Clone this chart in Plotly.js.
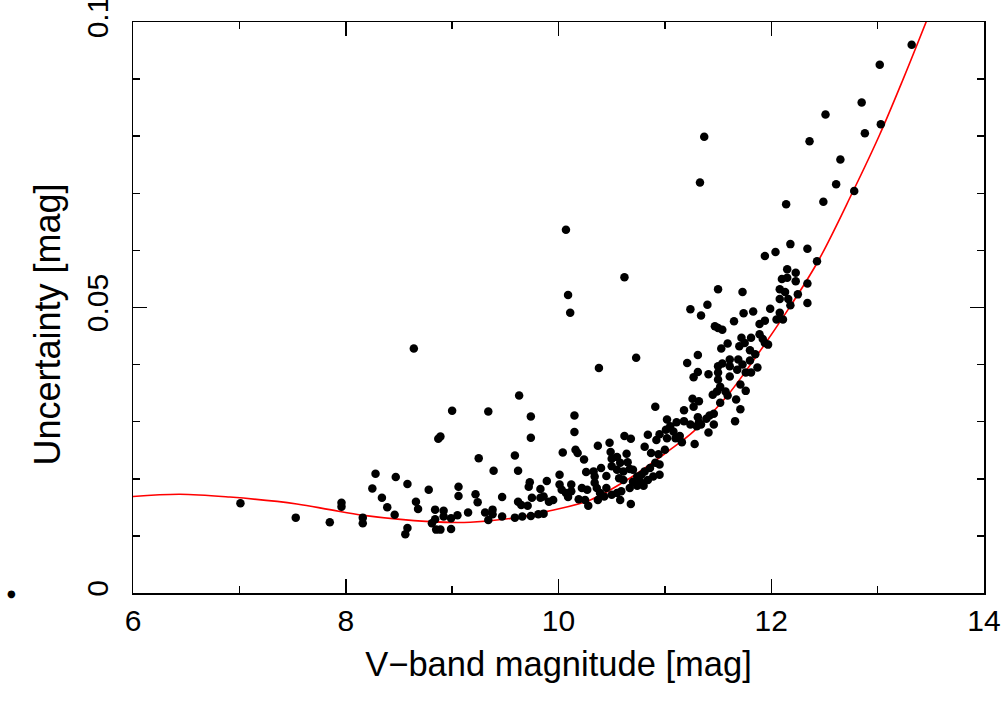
<!DOCTYPE html>
<html>
<head>
<meta charset="utf-8">
<script src="https://cdn.plot.ly/plotly-3.0.1.min.js"></script>
<style>
html,body{margin:0;padding:0;background:#fff;overflow:hidden;}
#wrap{position:relative;width:1008px;height:704px;}
#chart{width:1008px;height:704px;}
#frame{position:absolute;left:131.5px;top:20.5px;width:854px;height:574px;box-sizing:border-box;border:1.5px solid #000;pointer-events:none;}
</style>
</head>
<body>
<div id="wrap"><div id="chart"></div><div id="frame"></div></div>
<script>
// Measured stars: V-band magnitude and its uncertainty [mag]
const magV = [
7.01,7.53,7.85,7.96,7.96,8.16,8.16,8.28,8.25,8.47,8.34,8.39,8.46,8.58,8.66,8.68,8.58,8.56,8.78,8.64,
8.87,8.89,9.25,9.59,9.39,9.62,9.74,9.74,9.06,9.06,9.22,9.24,9.47,9.73,9.72,9.89,9.83,9.75,9.83,9.62,
9.65,9.71,8.84,8.92,8.92,8.84,8.81,8.85,8.89,8.99,9.05,8.99,9.15,9.31,9.38,9.38,9.34,9.47,9.59,9.66,
9.74,9.81,9.86,9.91,
10.07,10.62,10.09,10.11,10.73,10.38,9.63,9.00,9.34,10.15,10.15,10.04,10.16,10.18,10.24,10.37,10.48,10.49,10.62,10.68,
10.84,10.81,
10.91,10.95,11.01,10.92,10.87,10.94,11.00,10.50,10.55,10.64,10.65,10.58,10.50,10.55,10.61,10.67,10.40,10.33,10.26,10.01,
10.34,10.34,10.45,10.57,10.61,10.70,10.74,10.78,10.81,10.86,10.91,10.95,10.95,10.77,10.80,10.84,10.89,10.12,10.12,10.01,
10.03,10.07,10.09,10.22,10.27,10.36,10.39,10.45,10.43,10.50,10.55,10.59,10.67,10.74,10.70,9.95,9.86,10.19,10.25,10.28,
10.37,10.58,10.68,
11.21,11.27,11.31,11.41,11.50,11.54,11.50,11.61,11.61,11.69,11.68,11.73,11.76,11.81,11.87,11.80,11.50,11.52,11.49,11.45,
11.57,11.61,11.71,11.76,11.52,11.59,11.67,11.26,11.32,11.27,11.18,11.71,11.46,11.42,11.39,11.31,11.32,11.66,11.46,11.02,
11.05,11.11,11.18,11.24,11.30,11.34,11.41,11.02,11.08,11.10,11.14,11.16,11.28,
11.24,11.40,11.34,11.31,11.50,11.73,11.47,11.50,11.54,11.65,11.74,11.83,11.72,11.81,11.75,11.59,11.70,11.53,11.80,11.85,
11.89,11.94,11.89,11.92,11.94,11.97,11.99,12.08,12.05,12.11,12.08,12.13,12.25,12.08,12.16,12.34,12.18,12.15,12.23,12.10,
12.15,12.23,12.34,12.18,12.34,11.94,12.04,12.43,
11.37,11.33,13.32,13.02,12.85,12.51,13.03,12.88,12.36,12.65,12.61,12.78,12.49,12.14
];
const sigmaV = [
0.0157,0.0132,0.0124,0.0158,0.0151,0.0132,0.0122,0.0209,0.0183,0.0203,0.0167,0.0150,0.0137,0.0191,0.0160,0.0147,0.0114,0.0103,0.0181,0.0428,
0.0270,0.0274,0.0236,0.0241,0.0214,0.0214,0.0272,0.0309,0.0186,0.0170,0.0173,0.0159,0.0168,0.0194,0.0186,0.0196,0.0182,0.0167,0.0167,0.0160,
0.0154,0.0153,0.0146,0.0144,0.0134,0.0129,0.0122,0.0111,0.0111,0.0131,0.0136,0.0112,0.0141,0.0141,0.0146,0.0138,0.0128,0.0134,0.0132,0.0134,
0.0135,0.0138,0.0139,0.0160,
0.0636,0.0553,0.0522,0.0491,0.0412,0.0394,0.0346,0.0319,0.0318,0.0311,0.0282,0.0246,0.0251,0.0245,0.0234,0.0258,0.0263,0.0247,0.0275,0.0270,
0.0277,0.0256,
0.0326,0.0278,0.0286,0.0268,0.0245,0.0243,0.0251,0.0235,0.0238,0.0244,0.0229,0.0228,0.0222,0.0216,0.0213,0.0217,0.0219,0.0213,0.0212,0.0207,
0.0204,0.0193,0.0205,0.0201,0.0198,0.0216,0.0204,0.0207,0.0213,0.0219,0.0228,0.0225,0.0207,0.0195,0.0188,0.0198,0.0204,0.0190,0.0178,0.0190,
0.0181,0.0175,0.0168,0.0184,0.0181,0.0184,0.0175,0.0184,0.0169,0.0172,0.0175,0.0178,0.0184,0.0188,0.0195,0.0163,0.0169,0.0164,0.0163,0.0153,
0.0163,0.0163,0.0156,
0.0403,0.0378,0.0387,0.0383,0.0397,0.0402,0.0386,0.0397,0.0409,0.0409,0.0391,0.0400,0.0386,0.0386,0.0395,0.0407,0.0374,0.0361,0.0353,0.0347,
0.0353,0.0379,0.0365,0.0354,0.0333,0.0346,0.0339,0.0340,0.0336,0.0326,0.0320,0.0322,0.0314,0.0311,0.0305,0.0308,0.0299,0.0301,0.0295,0.0304,
0.0292,0.0299,0.0301,0.0295,0.0292,0.0295,0.0281,0.0271,0.0283,0.0271,0.0275,0.0264,0.0261,
0.0497,0.0505,0.0486,0.0417,0.0532,0.0527,0.0467,0.0464,0.0461,0.0476,0.0490,0.0493,0.0447,0.0447,0.0438,0.0437,0.0432,0.0428,0.0425,0.0418,
0.0471,0.0477,0.0453,0.0445,0.0438,0.0435,0.0498,0.0491,0.0479,0.0479,0.0532,0.0527,0.0523,0.0515,0.0515,0.0508,0.0504,0.0567,0.0561,0.0550,
0.0552,0.0546,0.0542,0.0611,0.0603,0.0590,0.0597,0.0581,
0.0799,0.0719,0.0960,0.0925,0.0859,0.0838,0.0821,0.0805,0.0791,0.0759,0.0716,0.0704,0.0685,0.0681
];
// Fitted uncertainty curve
const fitMag   = [6.00,6.44,6.91,7.54,7.85,8.17,8.79,9.17,9.64,9.92,10.30,10.67,11.05,11.27,11.58,11.77,12.15,12.44,12.77,13.02,13.24,13.46];
const fitSigma = [0.0169,0.0173,0.0168,0.0156,0.0146,0.0136,0.0125,0.0124,0.0133,0.0144,0.0163,0.0201,0.0251,0.0283,0.0344,0.0391,0.0494,0.0581,0.0704,0.0803,0.0900,0.1002];
// Stray symbol left of the frame
const strayMag = [4.86];
const straySigma = [0.0];
// Axis ranges and labels
const magRange = [6, 14];
const sigRange = [0, 0.1];
const yTickVals = [0, 0.05, 0.1];
const yTickText = ['0', '0.05', '0.1'];
const xTitle = 'V\u2212band magnitude [mag]';
const yTitle = 'Uncertainty [mag]';

const FONT = 'Liberation Sans, Arial, sans-serif';

const traces = [
  {x: fitMag, y: fitSigma, type: 'scatter', mode: 'lines', xaxis: 'x', yaxis: 'y',
   line: {color: '#ff0000', width: 1.6, shape: 'spline', smoothing: 1}, hoverinfo: 'skip'},
  {x: magV, y: sigmaV, type: 'scatter', mode: 'markers', xaxis: 'x2', yaxis: 'y2',
   marker: {color: '#000000', size: 8.5, line: {width: 0}}}
];

const base = {
  showgrid: false, zeroline: false, showline: true, linecolor: '#000', linewidth: 1.5,
  mirror: 'allticks', ticks: 'inside', tickwidth: 1.5, tickcolor: '#000',
  tickfont: {family: FONT, size: 30, color: '#000'}, ticklabeloverflow: 'allow'
};

const strayX = (strayMag[0] - magRange[0]) / (magRange[1] - magRange[0]);
const strayY = (straySigma[0] - sigRange[0]) / (sigRange[1] - sigRange[0]);

const layout = {
  width: 1008, height: 704,
  margin: {l: 133, r: 24, t: 22, b: 111},
  paper_bgcolor: 'rgba(0,0,0,0)', plot_bgcolor: 'rgba(0,0,0,0)',
  showlegend: false,
  font: {family: FONT, color: '#000'},
  xaxis: Object.assign({}, base, {
    side: 'bottom', range: magRange, tick0: 0, dtick: 2, ticklen: 14, ticklabelstandoff: 0,
    title: {text: xTitle, font: {family: FONT, size: 34.5, color: '#000'}, standoff: 16}
  }),
  yaxis: Object.assign({}, base, {
    side: 'left', range: sigRange, tickmode: 'array', tickvals: yTickVals, ticktext: yTickText,
    tickangle: -90, ticklen: 14, ticklabelstandoff: 12
  }),
  xaxis2: Object.assign({}, base, {
    overlaying: 'x', anchor: 'y2', side: 'top', range: magRange, tick0: 0, dtick: 1,
    ticklen: 7, showticklabels: false
  }),
  yaxis2: Object.assign({}, base, {
    overlaying: 'y', anchor: 'x2', side: 'right', range: sigRange, tick0: 0, dtick: 0.01,
    ticklen: 7, showticklabels: false
  }),
  annotations: [
    {text: yTitle, xref: 'paper', yref: 'paper', x: -0.1, y: 0.47, xanchor: 'center', yanchor: 'middle',
     textangle: -90, showarrow: false, font: {family: FONT, size: 36, color: '#000'}},
    {text: '\u25CF', xref: 'paper', yref: 'paper', x: strayX, y: strayY, xanchor: 'center', yanchor: 'middle',
     showarrow: false, font: {family: 'DejaVu Sans, sans-serif', size: 10, color: '#000'}}
  ]
};

Plotly.newPlot('chart', traces, layout, {displayModeBar: false, staticPlot: true});
</script>
</body>
</html>
